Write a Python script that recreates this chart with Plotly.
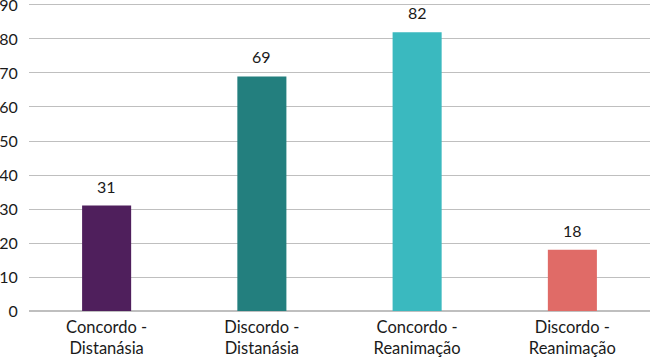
import plotly.graph_objects as go

categories = ["Concordo -<br>Distanásia", "Discordo -<br>Distanásia", "Concordo -<br>Reanimação", "Discordo -<br>Reanimação"]
values = [31, 69, 82, 18]
colors = ["#4F1F5C", "#237F7E", "#3AB9BF", "#E06B67"]
yticks = [0, 10, 20, 30, 40, 50, 60, 70, 80, 90]

fig = go.Figure()
fig.add_trace(go.Bar(x=categories, y=values, marker=dict(color=colors, line=dict(width=0)), width=0.316,
                     hoverinfo="skip"))

for c, v in zip(categories, values):
    fig.add_annotation(x=c, y=v, text=str(v), showarrow=False, yanchor="bottom", yshift=8,
                       font=dict(family="Lato", size=16, color="#1a1a1a"))

fig.update_layout(
    width=650, height=360,
    margin=dict(l=29, r=0, t=2, b=49),
    plot_bgcolor="white", paper_bgcolor="white",
    font=dict(family="Lato", size=16, color="#1a1a1a"),
    showlegend=False,
)
fig.update_yaxes(range=[0, 90.88], tickvals=yticks, showgrid=True, gridcolor="#BFBFBF", gridwidth=1,
                 zeroline=True, zerolinecolor="#BFBFBF", ticks="outside", ticklen=7,
                 tickcolor="rgba(0,0,0,0)", tickfont=dict(size=16), automargin=False, fixedrange=True,
                 ticklabeloverflow="allow")
fig.update_xaxes(showline=False, tickfont=dict(size=16.5), ticks="outside", ticklen=1,
                 tickcolor="rgba(0,0,0,0)", automargin=False, fixedrange=True, ticklabeloverflow="allow")

fig.write_html("out.html", config={"displayModeBar": False, "staticPlot": True},
               post_script="document.body.style.margin='0';document.body.style.overflow='hidden';")
